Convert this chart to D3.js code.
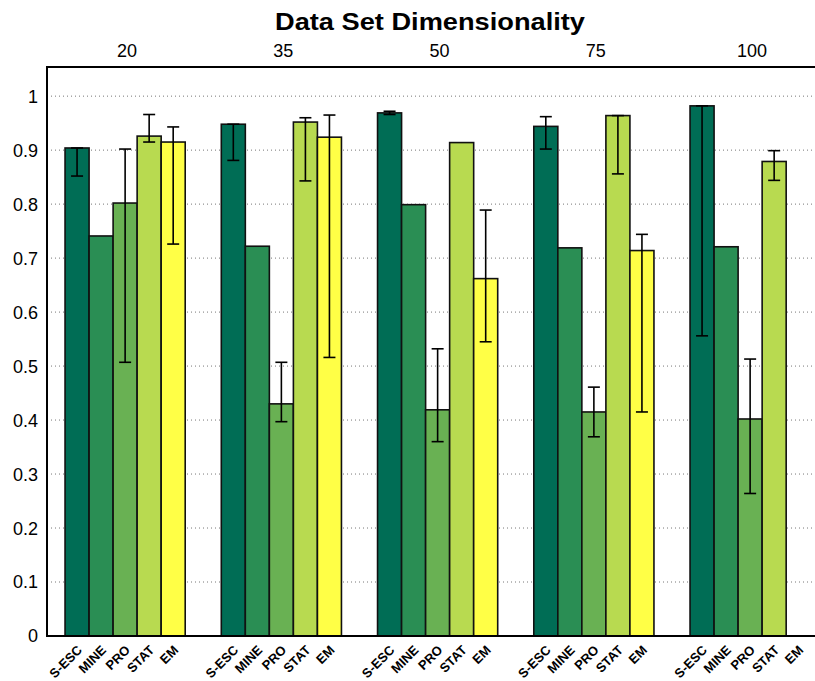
<!DOCTYPE html>
<html>
<head>
  <meta charset="utf-8">
  <script src="https://cdnjs.cloudflare.com/ajax/libs/d3/7.8.5/d3.min.js"></script>
  <title>Data Set Dimensionality</title>
  <style>
    body { margin: 0; background: #fff; }
    text { font-family: "Liberation Sans", Arial, sans-serif; fill: #000; }
  </style>
</head>
<body>
<script>
  // groups along the top axis, methods within each group
  const dims = ["20", "35", "50", "75", "100"];
  const methods = ["S-ESC", "MINE", "PRO", "STAT", "EM"];
  const colors = ["#006d55", "#2a8e54", "#69b153", "#b8da50", "#ffff46"];
  const yTicks = [0, 0.1, 0.2, 0.3, 0.4, 0.5, 0.6, 0.7, 0.8, 0.9, 1];

  // bar heights, one array per method (index = dimensionality)
  const sesc = [0.904, 0.948, 0.969, 0.944, 0.982];
  const mine = [0.741, 0.722, 0.799, 0.719, 0.721];
  const pro  = [0.802, 0.430, 0.419, 0.415, 0.402];
  const stat = [0.926, 0.952, 0.914, 0.964, 0.879];
  const em   = [0.915, 0.924, 0.662, 0.714, 0];

  // error bar ends (low / high), null where there is none
  const sescLo = [0.852, 0.881, 0.966, 0.902, 0.556];
  const sescHi = [0.904, 0.948, 0.972, 0.962, 0.982];
  const proLo  = [0.507, 0.397, 0.360, 0.369, 0.264];
  const proHi  = [0.902, 0.507, 0.532, 0.461, 0.513];
  const statLo = [0.915, 0.843, null, 0.856, 0.844];
  const statHi = [0.966, 0.960, null, 0.964, 0.899];
  const emLo   = [0.726, 0.516, 0.545, 0.415, null];
  const emHi   = [0.943, 0.965, 0.789, 0.744, null];

  const values = [sesc, mine, pro, stat, em];
  const lows = [sescLo, null, proLo, statLo, emLo];
  const highs = [sescHi, null, proHi, statHi, emHi];

  const w = 815, h = 681;
  const padL = 47, padT = 67, padB = 636;
  const unit = 156.25;

  const svg = d3.select("body").append("svg")
    .attr("width", w)
    .attr("height", h);

  const x0 = d3.scaleBand()
    .domain(dims)
    .range([padL, padL + unit * dims.length]);

  const groupW = unit * 0.769;
  const x1 = d3.scaleBand()
    .domain(methods)
    .range([(unit - groupW) / 2, (unit + groupW) / 2]);

  const y = d3.scaleLinear()
    .domain([0, 1.054])
    .range([padB, padT]);

  // dotted grid
  svg.append("g")
    .selectAll("line")
    .data(yTicks.slice(1))
    .enter()
    .append("line")
    .attr("x1", padL)
    .attr("x2", w)
    .attr("y1", d => y(d))
    .attr("y2", d => y(d))
    .attr("stroke", "#777")
    .attr("stroke-width", 1)
    .attr("stroke-dasharray", "1,3");

  // flatten into rows
  const rows = [];
  dims.forEach((d, i) => {
    methods.forEach((m, j) => {
      rows.push({
        dim: d, m: m, j: j,
        v: values[j][i],
        lo: lows[j] ? lows[j][i] : null,
        hi: highs[j] ? highs[j][i] : null
      });
    });
  });

  const bars = svg.append("g");
  bars.selectAll("rect")
    .data(rows)
    .enter()
    .append("rect")
    .attr("x", d => x0(d.dim) + x1(d.m))
    .attr("y", d => y(d.v))
    .attr("width", x1.bandwidth())
    .attr("height", d => padB - y(d.v))
    .attr("fill", d => colors[d.j])
    .attr("stroke", "#111")
    .attr("stroke-width", 1.6);

  // error bars
  const eb = svg.append("g")
    .attr("stroke", "#000")
    .attr("stroke-width", 1.6);
  const errRows = rows.filter(d => d.lo != null);
  const cx = d => x0(d.dim) + x1(d.m) + x1.bandwidth() / 2;
  eb.selectAll(".stem")
    .data(errRows)
    .enter()
    .append("line")
    .attr("x1", cx).attr("x2", cx)
    .attr("y1", d => y(d.lo)).attr("y2", d => y(d.hi));
  ["lo", "hi"].forEach(k => {
    eb.selectAll(".cap-" + k)
      .data(errRows)
      .enter()
      .append("line")
      .attr("x1", d => cx(d) - 6).attr("x2", d => cx(d) + 6)
      .attr("y1", d => y(d[k])).attr("y2", d => y(d[k]));
  });

  // frame: left, top, bottom
  svg.append("path")
    .attr("d", `M${w},${padT}H${padL}V${padB}H${w}`)
    .attr("stroke", "#000")
    .attr("stroke-width", 2)
    .attr("fill", "none");

  // y tick labels
  svg.append("g")
    .selectAll("text")
    .data(yTicks)
    .enter()
    .append("text")
    .attr("x", padL - 9)
    .attr("y", d => y(d))
    .attr("dy", "0.36em")
    .attr("text-anchor", "end")
    .attr("font-size", 18)
    .text(d => d3.format("")(d));

  // top labels (dimensionality)
  svg.append("g")
    .selectAll("text")
    .data(dims)
    .enter()
    .append("text")
    .attr("x", d => x0(d) + unit / 2 + 2)
    .attr("y", 57)
    .attr("text-anchor", "middle")
    .attr("font-size", 18)
    .text(d => d);

  svg.append("text")
    .attr("x", 430)
    .attr("y", 30)
    .attr("text-anchor", "middle")
    .attr("font-size", 23)
    .attr("font-weight", "bold")
    .attr("textLength", 310)
    .attr("lengthAdjust", "spacingAndGlyphs")
    .text("Data Set Dimensionality");

  // rotated method labels below bars
  svg.append("g")
    .selectAll("text")
    .data(rows)
    .enter()
    .append("text")
    .attr("transform", d => `translate(${cx(d) - 1},${padB + 8}) rotate(-45)`)
    .attr("dy", "0.75em")
    .attr("text-anchor", "end")
    .attr("font-size", 13)
    .attr("font-weight", "bold")
    .text(d => d.m);
</script>
</body>
</html>
